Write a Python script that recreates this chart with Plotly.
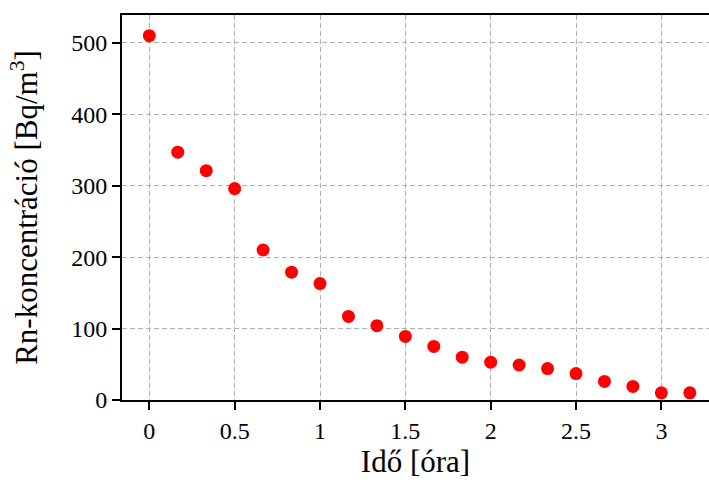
import plotly.graph_objects as go

# Data
time_h = [0, 1/6, 2/6, 3/6, 4/6, 5/6, 1, 7/6, 8/6, 9/6, 10/6, 11/6, 2, 13/6, 14/6, 15/6, 16/6, 17/6, 3, 19/6]
rn_conc = [510, 347, 321, 296, 210, 179, 163, 117, 104, 89, 75, 60, 53, 49, 44, 37, 26, 19, 10, 10]

x_ticks = [0, 0.5, 1, 1.5, 2, 2.5, 3]
x_tick_labels = ["0", "0.5", "1", "1.5", "2", "2.5", "3"]
y_ticks = [0, 100, 200, 300, 400, 500]
y_tick_labels = ["0", "100", "200", "300", "400", "500"]

FONT = "Liberation Serif"

fig = go.Figure()
fig.add_trace(go.Scatter(
    x=time_h, y=rn_conc, mode="markers",
    marker=dict(color="#ff0000", size=13, line=dict(width=0)),
    showlegend=False,
))

axis_common = dict(
    showline=True, linecolor="black", linewidth=2,
    ticks="outside", ticklen=8, tickwidth=2, tickcolor="black",
    showgrid=True, gridcolor="#b0b0b0", gridwidth=1, griddash="5px,3px",
    zeroline=False, automargin=False,
    tickfont=dict(family=FONT, size=24, color="black"),
)

fig.update_xaxes(
    **axis_common,
    range=[-0.16, 3.279],
    tickvals=x_ticks, ticktext=x_tick_labels,
    mirror=True,
    title=dict(text="Idő [óra]", font=dict(family=FONT, size=31, color="black"), standoff=8),
)
fig.update_yaxes(
    **axis_common,
    range=[0, 539],
    tickvals=y_ticks, ticktext=y_tick_labels,
    title=dict(text="Rn-koncentráció [Bq/m<sup>3</sup>]", font=dict(family=FONT, size=31, color="black"), standoff=24),
)

fig.update_layout(
    width=709, height=483,
    margin=dict(l=122, r=0, t=15, b=83),
    paper_bgcolor="white", plot_bgcolor="white",
)

fig.write_html("out.html", config={"displayModeBar": False},
               post_script="document.body.style.margin='0';")
